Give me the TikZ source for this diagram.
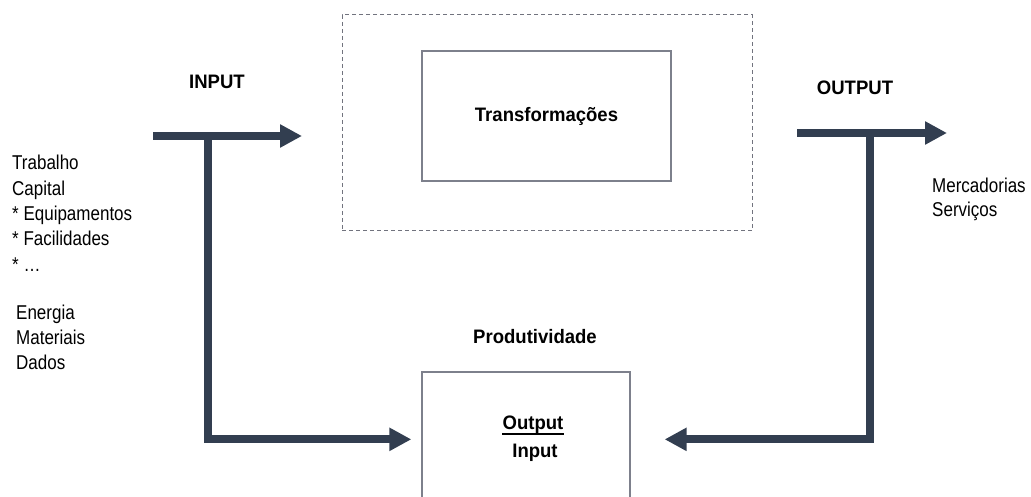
\documentclass[tikz,border=0pt]{standalone}
\usepackage{fontspec}
\setmainfont{Liberation Sans}[FakeStretch=0.85]
\newfontfamily\heavy{Liberation Sans}[FakeStretch=0.95]
\usetikzlibrary{arrows.meta,calc}
\definecolor{flow}{RGB}{50,62,80}
\definecolor{frame}{RGB}{125,128,140}
\begin{document}
\begin{tikzpicture}[x=1pt,y=-1pt,
  fat/.style={draw=flow,line width=8pt,-{Triangle[length=22pt,width=22pt]}},
  boxed/.style={draw=frame,line width=1.3pt,rectangle,inner sep=0pt},
  stagebox/.style={draw=frame!90!black,line width=1pt,dash pattern=on 4pt off 3pt,rectangle,inner sep=0pt},
  heading/.style={font=\heavy\bfseries\fontsize{19.5}{22}\selectfont,inner sep=0pt},
  item/.style={font=\fontsize{20}{22}\selectfont,anchor=base west,inner sep=0pt}]
  \path[use as bounding box] (0,0) rectangle (1031,497);
  \clip (0,0) rectangle (1031,497);

  % process boxes
  \node[stagebox,minimum width=410pt,minimum height=216pt] (stage) at (547,123) {};
  \node[boxed,heading,minimum width=249pt,minimum height=130pt] (trans) at (546.5,116) {Transformações};
  \node[boxed,minimum width=208pt,minimum height=170pt] (prod) at (526,457) {};

  % labels
  \node[heading] (inL) at (217,82) {INPUT};
  \node[heading] (outL) at (855,88) {OUTPUT};
  \node[heading] (prodL) at (535,337) {Produtividade};
  \node[heading] (ratioTop) at (533,425) {Output};
  \draw[black,line width=1.8pt] (ratioTop.south west) -- (ratioTop.south east);
  \node[heading] (ratioBot) at (535,453) {Input};

  % resources entering the system
  \foreach \t [count=\i] in {Trabalho,Capital,* Equipamentos,* Facilidades,* \dots}
    \node[item] (res\i) at (12,{170+25.3*(\i-1)}) {\t};
  \foreach \t [count=\i] in {Energia,Materiais,Dados}
    \node[item] (sup\i) at (16,{319+25*(\i-1)}) {\t};

  % results leaving the system
  \node[item] (goods) at (932,193) {Mercadorias};
  \node[item] (serv) at (932,217) {Serviços};

  % input flow and its branch to productivity
  \coordinate (inS) at (153,136);
  \coordinate (inE) at (302,136);
  \coordinate (inJ) at (208,136);
  \draw[fat] (inS) -- (inE);
  \draw[fat] (inJ) |- ($(prod.north west)+(-10,68)$);

  % output flow and its branch to productivity
  \coordinate (outS) at (797,133);
  \coordinate (outE) at (947,133);
  \coordinate (outJ) at (870,133);
  \draw[fat] (outS) -- (outE);
  \draw[fat] (outJ) |- ($(prod.north east)+(34,68)$);
\end{tikzpicture}
\end{document}
